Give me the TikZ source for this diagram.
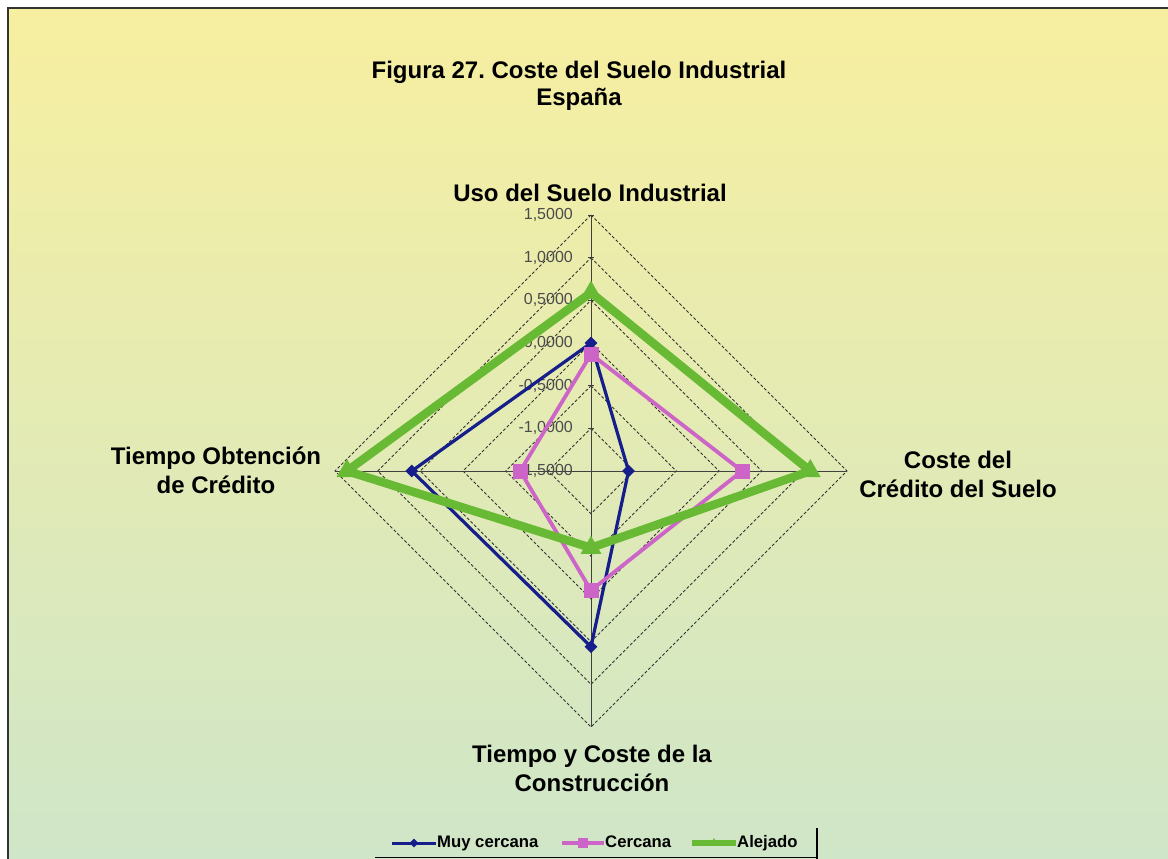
\documentclass[tikz,border=0pt]{standalone}
\usepackage{fontspec}
\setmainfont{Liberation Sans}
\usetikzlibrary{shapes.geometric}
\definecolor{muyblue}{RGB}{22,30,140}
\definecolor{cercpink}{RGB}{205,100,200}
\definecolor{alejgreen}{RGB}{104,186,52}
\definecolor{bgtop}{RGB}{247,239,160}
\definecolor{bgmid}{RGB}{233,236,182}
\definecolor{bgbot}{RGB}{207,230,200}
\definecolor{ticklab}{RGB}{75,75,75}
% radius of a value on the -1.5 ... 1.5 scale
\pgfmathdeclarefunction{ringrad}{1}{\pgfmathparse{(#1+1.5)*256/3}}

\begin{document}
\frenchspacing
\begin{tikzpicture}[x=1pt, y=1pt,
            ring/.style      = {dash pattern=on 3pt off 2pt, line width=0.9pt, black!80},
            spoke/.style     = {line width=1pt, black!75},
            axlabel/.style   = {font=\bfseries\fontsize{24}{29}\selectfont, align=center},
            ticklabel/.style = {font=\fontsize{16}{18}\selectfont, text=ticklab, anchor=east, inner sep=0pt},
            muy/.style       = {muyblue, line width=3.2pt, line join=round},
            cerc/.style      = {cercpink, line width=3.8pt, line join=round},
            alej/.style      = {alejgreen, line width=8.5pt, line join=round},
            muymark/.style   = {diamond, fill=muyblue, inner sep=0pt, minimum size=13pt},
            cercmark/.style  = {rectangle, fill=cercpink, inner sep=0pt, minimum size=15pt},
            alejmark/.style  = {regular polygon, regular polygon sides=3, fill=alejgreen, inner sep=0pt, minimum size=24pt},
            legtext/.style   = {font=\bfseries\fontsize{16.7}{18}\selectfont, anchor=west, inner sep=1pt,
                                text height=12pt, text depth=3.5pt}
                        ]
            % background
            \useasboundingbox (0,0) rectangle (1168,-859);
            \shade[top color=bgtop, middle color=bgmid, bottom color=bgbot] (8,-8) rectangle (1168,-859);
            \draw[line width=1.3pt, black!80] (8,-859) -- (8,-8) -- (1168,-8);
            % title
            \node[font=\bfseries\fontsize{24}{27}\selectfont, align=center] (title) at (579,-86)
                {Figura 27. Coste del Suelo Industrial\\España};
            % grid
            \begin{scope}[shift={(591,-471)}]
            \coordinate (O) at (0,0);
            \foreach \v in {-1,-0.5,0,0.5,1,1.5}
                \draw[ring] (90:{ringrad(\v)}) -- (0:{ringrad(\v)}) -- (270:{ringrad(\v)}) -- (180:{ringrad(\v)}) -- cycle;
            \foreach \a/\n in {90/top, 0/right, 270/bottom, 180/left}
                \draw[spoke] (O) -- (\a:256) coordinate (\n);
            \foreach \v in {-1,-0.5,0,0.5,1,1.5}
                \draw[spoke] (-3,{ringrad(\v)}) -- (3,{ringrad(\v)});
            \foreach \v/\t in {-1.5/{-1,5000}, -1/{-1,0000}, -0.5/{-0,5000}, 0/{0,0000}, 0.5/{0,5000}, 1/{1,0000}, 1.5/{1,5000}}
                \node[ticklabel] at (-18,{ringrad(\v)}) {\t};
            % Muy cercana
            \path (90:{ringrad(0.00)})   coordinate (muy-t)
                  (0:{ringrad(-1.06)})   coordinate (muy-r)
                  (270:{ringrad(0.56)})  coordinate (muy-b)
                  (180:{ringrad(0.60)})  coordinate (muy-l);
            \draw[muy] (muy-t) -- (muy-r) -- (muy-b) -- (muy-l) -- cycle;
            \foreach \n in {t,r,b,l} \node[muymark] at (muy-\n) {};
            % Cercana
            \path (90:{ringrad(-0.13)})  coordinate (cerc-t)
                  (0:{ringrad(0.27)})    coordinate (cerc-r)
                  (270:{ringrad(-0.10)}) coordinate (cerc-b)
                  (180:{ringrad(-0.67)}) coordinate (cerc-l);
            \draw[cerc] (cerc-t) -- (cerc-r) -- (cerc-b) -- (cerc-l) -- cycle;
            \foreach \n in {t,r,b,l} \node[cercmark] at (cerc-\n) {};
            % Alejado
            \path (90:{ringrad(0.59)})   coordinate (alej-t)
                  (0:{ringrad(1.07)})    coordinate (alej-r)
                  (270:{ringrad(-0.60)}) coordinate (alej-b)
                  (180:{ringrad(1.36)})  coordinate (alej-l);
            \draw[alej] (alej-t) -- (alej-r) -- (alej-b) -- (alej-l) -- cycle;
            \foreach \n in {t,r,b,l} \node[alejmark] at (alej-\n) {};
            \end{scope}
            % axis labels
            \node[axlabel, anchor=base] (uso) at (590,-201) {Uso del Suelo Industrial};
            \node[axlabel] (credito) at (958,-474) {Coste del\\Crédito del Suelo};
            \node[axlabel] (construccion) at (592,-768) {Tiempo y Coste de la\\Construcción};
            \node[axlabel] (obtencion) at (216,-470) {Tiempo Obtención\\de Crédito};
            % legend
            \node[legtext] (leg-muy) at (436,-843) {Muy cercana};
            \node[legtext] (leg-cerc) at (604,-843) {Cercana};
            \node[legtext] (leg-alej) at (736,-843) {Alejado};
            \draw[muy, line width=3pt] ([xshift=-44pt]leg-muy.west) -- (leg-muy.west)
                node[midway, muymark, minimum size=10pt] {};
            \draw[cerc, line width=3.2pt] ([xshift=-42pt]leg-cerc.west) -- (leg-cerc.west)
                node[midway, cercmark, minimum size=10pt] {};
            \draw[alej, line width=6pt] ([xshift=-44pt]leg-alej.west) -- (leg-alej.west)
                node[midway, alejmark, minimum size=10pt] {};
            \draw[line width=1.5pt] (375,-857.5) -- (817,-857.5);
            \draw[line width=2.5pt] (817,-828) -- (817,-859);
    \end{tikzpicture}
\end{document}
